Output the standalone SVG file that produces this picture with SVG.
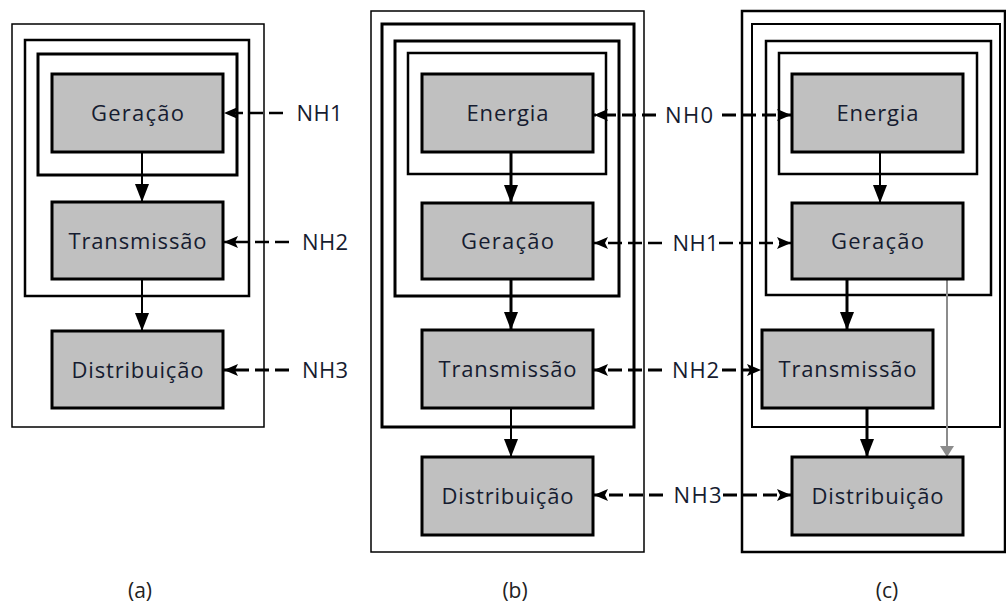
<svg xmlns="http://www.w3.org/2000/svg" width="1006" height="603" viewBox="0 0 1006 603">
<style>
  .frame { fill: none; stroke: #000; }
  .node rect { fill: #c0c0c0; stroke: #000; stroke-width: 3; }
  .node text, .lbl { font-family: "Open Sans", "Noto Sans", "Liberation Sans", sans-serif; font-size: 22px; fill: #161c30; text-anchor: middle; }
  .flow { stroke: #000; fill: none; marker-end: url(#ah); }
  .dash { stroke: #000; fill: none; stroke-dasharray: 14 6; marker-end: url(#dh); }
  .gray { stroke: #8c8c8c; stroke-width: 2; fill: none; marker-end: url(#gh); }
  .cap { font-family: "Open Sans", "Noto Sans", "Liberation Sans", sans-serif; font-size: 21px; fill: #222; text-anchor: middle; }
</style>
<defs>
  <marker id="ah" viewBox="0 0 18 14" refX="18" refY="7" markerWidth="18" markerHeight="14" markerUnits="userSpaceOnUse" orient="auto">
    <path d="M0,0 L18,7 L0,14 z" fill="#000"/>
  </marker>
  <marker id="dh" viewBox="0 0 14 12" refX="14" refY="6" markerWidth="14" markerHeight="12" markerUnits="userSpaceOnUse" orient="auto">
    <path d="M0,0 L14,6 L0,12 L3,6 z" fill="#000"/>
  </marker>
  <marker id="gh" viewBox="0 0 14 18" refX="14" refY="9" markerWidth="18" markerHeight="14" markerUnits="userSpaceOnUse" orient="auto">
    <path d="M0,0 L14,9 L0,18 z" fill="#8c8c8c"/>
  </marker>
</defs>
<rect width="1006" height="603" fill="#fff"/>

<!-- Panel (a) frames -->
<g id="frames-a">
  <rect class="frame" x="12" y="24" width="252" height="403" stroke-width="1.5"/>
  <rect class="frame" x="25" y="40" width="224" height="256" stroke-width="2.5"/>
  <rect class="frame" x="38" y="54" width="199" height="121" stroke-width="3"/>
</g>
<!-- Panel (b) frames -->
<g id="frames-b">
  <rect class="frame" x="371" y="11" width="273" height="541" stroke-width="1.5"/>
  <rect class="frame" x="382" y="24" width="252" height="403" stroke-width="3"/>
  <rect class="frame" x="395" y="41" width="224" height="255" stroke-width="3"/>
  <rect class="frame" x="408" y="53" width="198" height="121" stroke-width="2.5"/>
</g>
<!-- Panel (c) frames -->
<g id="frames-c">
  <rect class="frame" x="742" y="11" width="263" height="541" stroke-width="2.5"/>
  <rect class="frame" x="752" y="24" width="248" height="403" stroke-width="2"/>
  <rect class="frame" x="766" y="41" width="225" height="254" stroke-width="2.5"/>
  <rect class="frame" x="779" y="53" width="198" height="121" stroke-width="2.5"/>
</g>

<!-- Connectors -->
<g id="connectors">
  <!-- (a) -->
  <line class="flow" x1="142" y1="152" x2="142" y2="202" stroke-width="2"/>
  <line class="flow" x1="142" y1="279" x2="142" y2="331" stroke-width="2"/>
  <line class="dash" x1="283" y1="113" x2="224" y2="113" stroke-width="2.5"/>
  <line class="dash" x1="289" y1="242" x2="224" y2="242" stroke-width="2.5"/>
  <line class="dash" x1="289" y1="370" x2="224" y2="370" stroke-width="3"/>
  <!-- (b) -->
  <line class="flow" x1="511" y1="152" x2="511" y2="203" stroke-width="3"/>
  <line class="flow" x1="511" y1="279" x2="511" y2="330" stroke-width="3"/>
  <line class="flow" x1="511" y1="408" x2="511" y2="457" stroke-width="2"/>
  <!-- (c) -->
  <line class="flow" x1="880" y1="152" x2="880" y2="203" stroke-width="2"/>
  <line class="flow" x1="847" y1="279" x2="847" y2="330" stroke-width="3"/>
  <line class="flow" x1="867" y1="408" x2="867" y2="457" stroke-width="3"/>
  <line class="gray" x1="947" y1="279" x2="947" y2="457"/>
  <!-- NH links between (b) and (c) -->
  <line class="dash" x1="656" y1="115" x2="594" y2="115" stroke-width="3"/>
  <line class="dash" x1="722" y1="115" x2="791" y2="115" stroke-width="3"/>
  <line class="dash" x1="662" y1="243" x2="594" y2="243" stroke-width="2.5"/>
  <line class="dash" x1="719" y1="243" x2="791" y2="243" stroke-width="2.5"/>
  <line class="dash" x1="662" y1="370" x2="594" y2="370" stroke-width="3"/>
  <line class="dash" x1="722" y1="370" x2="761" y2="370" stroke-width="3"/>
  <line class="dash" x1="663" y1="495" x2="594" y2="495" stroke-width="3"/>
  <line class="dash" x1="723" y1="495" x2="791" y2="495" stroke-width="3"/>
</g>

<!-- Nodes (a) -->
<g id="a-geracao" class="node"><rect x="52" y="74" width="171" height="78"/><text x="137.5" y="121" textLength="93" lengthAdjust="spacing">Geração</text></g>
<g id="a-transmissao" class="node"><rect x="52" y="202" width="171" height="77"/><text x="137.5" y="249" textLength="138" lengthAdjust="spacing">Transmissão</text></g>
<g id="a-distribuicao" class="node"><rect x="52" y="331" width="171" height="77"/><text x="137.5" y="378" textLength="132" lengthAdjust="spacing">Distribuição</text></g>

<!-- Nodes (b) -->
<g id="b-energia" class="node"><rect x="422" y="74" width="171" height="78"/><text x="507.5" y="121" textLength="82" lengthAdjust="spacing">Energia</text></g>
<g id="b-geracao" class="node"><rect x="422" y="203" width="171" height="76"/><text x="507.5" y="249" textLength="93" lengthAdjust="spacing">Geração</text></g>
<g id="b-transmissao" class="node"><rect x="422" y="330" width="171" height="78"/><text x="507.5" y="377" textLength="138" lengthAdjust="spacing">Transmissão</text></g>
<g id="b-distribuicao" class="node"><rect x="422" y="457" width="171" height="78"/><text x="507.5" y="504" textLength="132" lengthAdjust="spacing">Distribuição</text></g>

<!-- Nodes (c) -->
<g id="c-energia" class="node"><rect x="792" y="74" width="171" height="78"/><text x="877.5" y="121" textLength="82" lengthAdjust="spacing">Energia</text></g>
<g id="c-geracao" class="node"><rect x="792" y="203" width="171" height="76"/><text x="877.5" y="249" textLength="93" lengthAdjust="spacing">Geração</text></g>
<g id="c-transmissao" class="node"><rect x="762" y="330" width="171" height="78"/><text x="847.5" y="377" textLength="138" lengthAdjust="spacing">Transmissão</text></g>
<g id="c-distribuicao" class="node"><rect x="792" y="457" width="171" height="78"/><text x="877.5" y="504" textLength="132" lengthAdjust="spacing">Distribuição</text></g>

<!-- NH labels -->
<g id="labels">
  <text class="lbl" x="319.5" y="121" textLength="46" lengthAdjust="spacing">NH1</text>
  <text class="lbl" x="325" y="250" textLength="46" lengthAdjust="spacing">NH2</text>
  <text class="lbl" x="325" y="378" textLength="46" lengthAdjust="spacing">NH3</text>
  <text class="lbl" x="689" y="123" textLength="48" lengthAdjust="spacing">NH0</text>
  <text class="lbl" x="695.5" y="251" textLength="46" lengthAdjust="spacing">NH1</text>
  <text class="lbl" x="695.5" y="378" textLength="47" lengthAdjust="spacing">NH2</text>
  <text class="lbl" x="697.5" y="503" textLength="48" lengthAdjust="spacing">NH3</text>
</g>

<!-- Captions -->
<g id="captions">
  <text class="cap" x="140" y="598">(a)</text>
  <text class="cap" x="515" y="598">(b)</text>
  <text class="cap" x="887" y="598">(c)</text>
</g>
</svg>
